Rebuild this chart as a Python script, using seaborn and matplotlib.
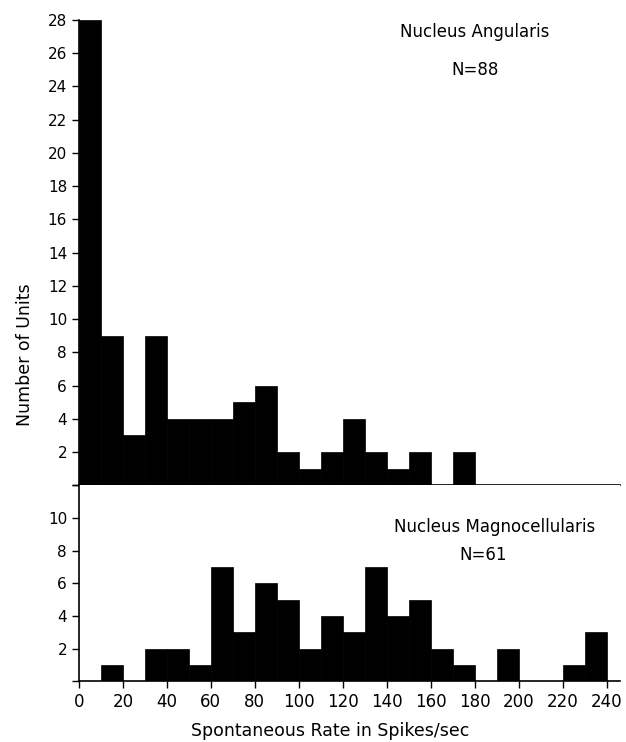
import numpy as np
import pandas as pd
import matplotlib
matplotlib.use("Agg")
import matplotlib.pyplot as plt
import seaborn as sns

# Data (bins of 10 spikes/sec)
bin_left = list(range(0, 240, 10))
angularis_counts = [28, 9, 3, 9, 4, 4, 4, 5, 6, 2, 1, 2, 4, 2, 1, 2, 0, 2, 0, 0, 0, 0, 0, 0]
magno_counts = [0, 1, 0, 2, 2, 1, 7, 3, 6, 5, 2, 4, 3, 7, 4, 5, 2, 1, 0, 2, 0, 0, 1, 3]
x_ticks = list(range(0, 241, 20))
top_yticks = list(range(0, 29, 2))
bot_yticks = list(range(0, 13, 2))

sns.set_theme(style="ticks")
plt.rcParams['font.family'] = ['DejaVu Sans']

fig = plt.figure(figsize=(6.26, 7.42), dpi=100)
ax1 = fig.add_axes([0.126, 0.346, 0.864, 0.627])
ax2 = fig.add_axes([0.126, 0.082, 0.864, 0.264])

edges = list(range(0, 250, 10))
df1 = pd.DataFrame({"rate": bin_left, "n": angularis_counts})
df2 = pd.DataFrame({"rate": bin_left, "n": magno_counts})

for ax, df in ((ax1, df1), (ax2, df2)):
    sns.histplot(data=df, x="rate", weights="n", bins=edges, color="black",
                 edgecolor="black", linewidth=0.5, alpha=1, ax=ax)
    ax.set_xlim(0, 246)
    for s in ("top", "right"):
        ax.spines[s].set_visible(False)
    ax.spines["left"].set_linewidth(1.2)
    ax.spines["bottom"].set_linewidth(1.2)
    ax.spines["left"].set_color("black")
    ax.spines["bottom"].set_color("black")
    ax.set_xlabel("")
    ax.set_ylabel("")
    ax.tick_params(axis="both", colors="black", labelsize=11, length=5, width=1)

ax1.set_ylim(0, 28)
ax1.set_yticks(top_yticks)
ax1.set_yticklabels([""] + [str(v) for v in top_yticks[1:]])
ax1.set_xticks([])

ax2.set_ylim(0, 12)
ax2.set_yticks(bot_yticks)
ax2.set_yticklabels([""] + [str(v) for v in bot_yticks[1:-1]] + [""])
ax2.set_xticks(x_ticks)
ax2.set_xticklabels([str(v) for v in x_ticks])
ax2.tick_params(axis="x", labelsize=12)

fig.text(475 / 626, 1 - 32 / 742, "Nucleus Angularis", ha="center", va="center",
         fontsize=12, color="black")
fig.text(475 / 626, 1 - 70 / 742, "N=88", ha="center", va="center",
         fontsize=12, color="black")
fig.text(495 / 626, 1 - 527 / 742, "Nucleus Magnocellularis", ha="center", va="center",
         fontsize=12, color="black")
fig.text(483 / 626, 1 - 555 / 742, "N=61", ha="center", va="center",
         fontsize=12, color="black")

fig.text(0.527, 1 - 731 / 742, "Spontaneous Rate in Spikes/sec", ha="center", va="center",
         fontsize=12.5, color="black")
fig.text(0.04, 1 - 355 / 742, "Number of Units", rotation=90, ha="center",
         va="center", fontsize=12.5, color="black")

fig.savefig("out.png", dpi=100, facecolor="white")
